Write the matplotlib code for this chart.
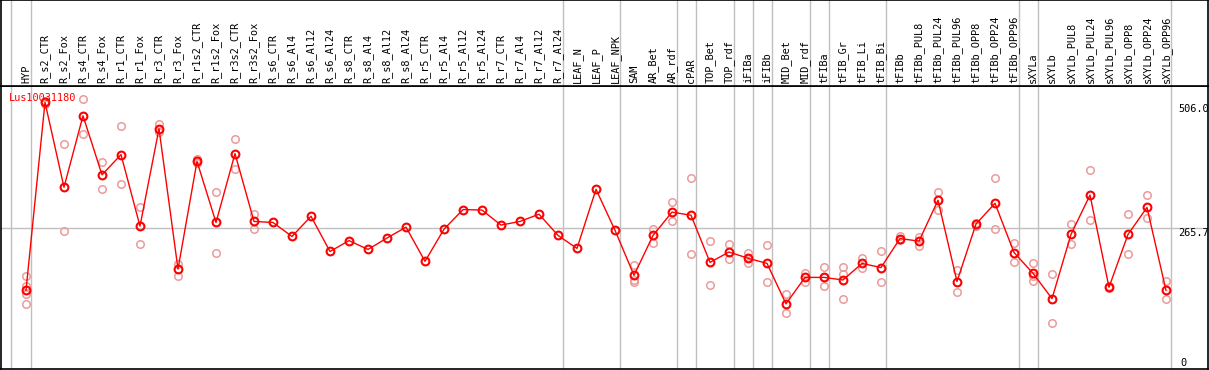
import matplotlib
matplotlib.use("Agg")
import matplotlib.pyplot as plt
import matplotlib.transforms as mtrans

categories = ["HYP", "R_s2_CTR", "R_s2_Fox", "R_s4_CTR", "R_s4_Fox", "R_r1_CTR", "R_r1_Fox",
              "R_r3_CTR", "R_r3_Fox", "R_r1s2_CTR", "R_r1s2_Fox", "R_r3s2_CTR", "R_r3s2_Fox",
              "R_s6_CTR", "R_s6_Al4", "R_s6_Al12", "R_s6_Al24", "R_s8_CTR", "R_s8_Al4",
              "R_s8_Al12", "R_s8_Al24", "R_r5_CTR", "R_r5_Al4", "R_r5_Al12", "R_r5_Al24",
              "R_r7_CTR", "R_r7_Al4", "R_r7_Al12", "R_r7_Al24", "LEAF_N", "LEAF_P", "LEAF_NPK",
              "SAM", "AR_Bet", "AR_rdf", "cPAR", "TOP_Bet", "TOP_rdf", "iFIBa", "iFIBb",
              "MID_Bet", "MID_rdf", "tFIBa", "tFIB_Gr", "tFIB_Li", "tFIB_Bi", "tFIBb",
              "tFIBb_PUL8", "tFIBb_PUL24", "tFIBb_PUL96", "tFIBb_OPP8", "tFIBb_OPP24",
              "tFIBb_OPP96", "sXYLa", "sXYLb", "sXYLb_PUL8", "sXYLb_PUL24", "sXYLb_PUL96",
              "sXYLb_OPP8", "sXYLb_OPP24", "sXYLb_OPP96"]

means = [146, 509, 345, 483, 369, 408, 270, 458, 187, 395, 277, 410, 279,
         277, 250, 289, 221, 242, 225, 247, 268, 202, 264, 302, 301,
         272, 279, 293, 252, 227, 341, 262,
         175, 252, 297, 291, 200, 220, 208, 198,
         120, 171, 171, 166, 198, 190, 246,
         241, 320, 163, 274, 314, 219,
         179, 130, 254, 330, 152, 254, 306, 146]

replicates = [[173, 154, 138, 119], [512, 506], [428, 261], [516, 448], [394, 342],
              [464, 352], [306, 235], [467, 451], [197, 174], [400, 392], [335, 218],
              [439, 380], [293, 264],
              [], [], [], [], [], [], [], [], [], [], [], [], [], [], [], [], [], [], [],
              [195, 166, 162], [264, 238], [316, 279], [362, 217], [242, 156], [235, 206],
              [219, 199, 208], [233, 162],
              [138, 102], [179, 162], [191, 154, 171], [191, 177, 130], [209, 189],
              [221, 162], [251, 244],
              [249, 232], [335, 302], [186, 143], [276, 271], [362, 265], [238, 200],
              [199, 173, 165], [177, 83], [274, 236], [378, 281], [154, 150],
              [293, 216], [330, 286], [164, 129]]

separators = [-0.79, 0.26, 28.26, 31.26, 34.26, 35.26, 37.26, 38.26, 39.26, 41.26,
              42.26, 45.26, 52.26, 53.26, 60.26]
ref_values = [506.0, 265.7]
ref_labels = ["506.0", "265.7"]
gene = "Lus10031180"

W, H = 1209, 370
fig = plt.figure(figsize=(W / 100, H / 100), dpi=100)
fig.patch.set_facecolor("white")

mono = "DejaVu Sans Mono"
xlim = ((1 - 26) / 19, (1208 - 26) / 19)
ylim = (-5.8, 541.4)

top_px, bot_px = 85.5, 369
ax = fig.add_axes([1 / W, 1 - bot_px / H, 1207 / W, (bot_px - top_px) / H])
hx = fig.add_axes([1 / W, 1 - top_px / H, 1207 / W, top_px / H], sharex=ax)

for a in (ax, hx):
    a.set_xlim(*xlim)
    a.set_xticks([])
    a.set_yticks([])
    for s in a.spines.values():
        s.set_color("black")
        s.set_linewidth(1.2)
    for xs in separators:
        a.axvline(xs, color="#c0c0c0", lw=1, zorder=0)
ax.set_ylim(*ylim)
hx.set_ylim(0, 1)

ax.axhline(ref_values[1], color="#c0c0c0", lw=1, zorder=0)

xs = list(range(len(categories)))
for i, reps in enumerate(replicates):
    if reps:
        ax.plot([i] * len(reps), reps, linestyle="none", marker="o", markersize=5.4,
                markerfacecolor="none", markeredgecolor="#ec9a9a", markeredgewidth=1.1,
                zorder=2)
ax.plot(xs, means, color="#ff0000", lw=1, marker="o", markersize=5.6,
        markerfacecolor="none", markeredgecolor="#ff0000", markeredgewidth=1.5, zorder=3)

for i, c in enumerate(categories):
    hx.text(i, (top_px - 83) / top_px, c, rotation=90, ha="center", va="bottom",
            fontsize=7.4, family=mono, color="black")

tr = mtrans.blended_transform_factory(fig.transFigure, ax.transData)
for v, lab in zip(ref_values, ref_labels):
    ax.text(1178 / W, v, lab, transform=tr, ha="left", va="top", fontsize=7.4,
            family=mono, color="black", zorder=1)
ax.text(1180 / W, 0, "0", transform=tr, ha="left", va="baseline", fontsize=7.4,
        family=mono, color="black")

fig.text(9 / W, 1 - 93 / H, gene, ha="left", va="top", fontsize=7.4, family=mono,
         color="#ff0000")

fig.savefig("out.png", dpi=100)
